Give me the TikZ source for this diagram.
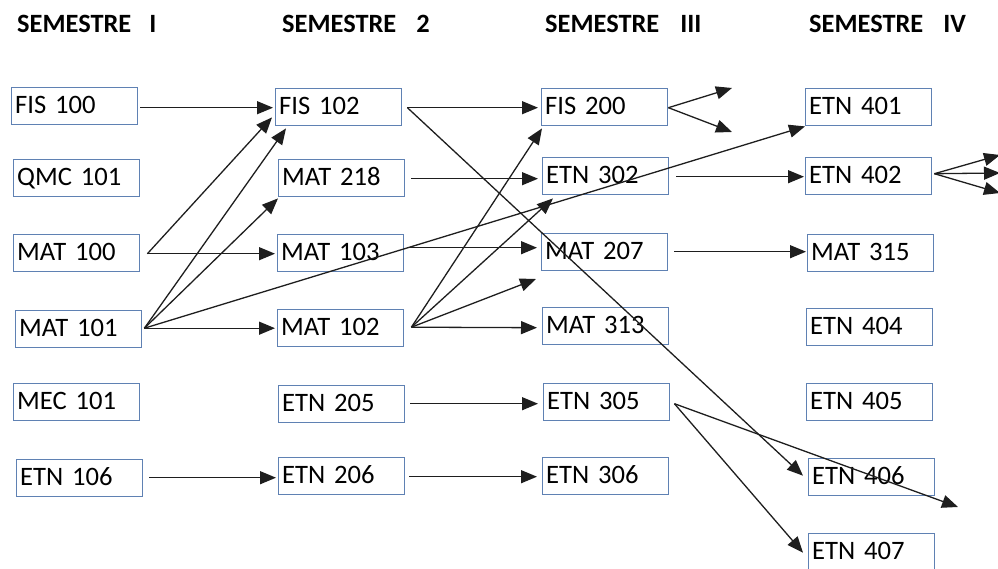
\documentclass[tikz,border=0pt]{standalone}
\usepackage{fontspec}
\setmainfont{Carlito}
\usetikzlibrary{arrows.meta,calc}
\definecolor{boxline}{HTML}{5F81B3}
\definecolor{wire}{HTML}{1E1E1E}
\begin{document}
\begin{tikzpicture}[x=1pt,y=-1pt,
  course/.style={draw=boxline, line width=1.4pt, rectangle, anchor=north west,
    minimum width=126pt, minimum height=37pt, text width=119pt, align=left,
    inner xsep=3.5pt, inner ysep=0pt, text height=17pt, text depth=2.5pt,
    font=\fontsize{26.6}{30}\selectfont},
  heading/.style={anchor=base west, inner sep=0pt,
    font=\fontsize{26.4}{30}\selectfont\bfseries},
  arr/.style={draw=wire, line width=1.3pt, -{Triangle[length=16pt,width=13pt]}}]
\useasboundingbox (0,0) rectangle (998,569);
\clip (0,0) rectangle (998,569);

% semester headings
\node[heading] (h1) at (17,33) {SEMESTRE\hspace{18pt}I};
\node[heading] (h2) at (282,33) {SEMESTRE\hspace{20pt}2};
\node[heading] (h3) at (545,33) {SEMESTRE\hspace{21pt}III};
\node[heading] (h4) at (809,33) {SEMESTRE\hspace{20pt}IV};

% semester I
\node[course] (fis100) at (11,87)  {FIS 100};
\node[course] (qmc101) at (13,159) {QMC 101};
\node[course] (mat100) at (13,234) {MAT 100};
\node[course] (mat101) at (15,310) {MAT 101};
\node[course] (mec101) at (13,383) {MEC 101};
\node[course] (etn106) at (16,459) {ETN 106};

% semester 2
\node[course] (fis102) at (275,88)  {FIS 102};
\node[course] (mat218) at (278,159) {MAT 218};
\node[course] (mat103) at (277,234) {MAT 103};
\node[course] (mat102) at (277,309) {MAT 102};
\node[course] (etn205) at (278,385) {ETN 205};
\node[course] (etn206) at (278,457) {ETN 206};

% semester III
\node[course] (fis200) at (541,88)  {FIS 200};
\node[course] (etn302) at (542,157) {ETN 302};
\node[course] (mat207) at (541,233) {MAT 207};
\node[course] (mat313) at (542,307) {MAT 313};
\node[course] (etn305) at (543,383) {ETN 305};
\node[course] (etn306) at (542,457) {ETN 306};

% semester IV
\node[course] (etn401) at (805,88)  {ETN 401};
\node[course] (etn402) at (805,157) {ETN 402};
\node[course] (mat315) at (807,234) {MAT 315};
\node[course] (etn404) at (806,308) {ETN 404};
\node[course] (etn405) at (806,383) {ETN 405};
\node[course] (etn406) at (808,458) {ETN 406};
\node[course] (etn407) at (808,533) {ETN 407};

% open ends of arrows leading out of the chart
\coordinate (fa) at (732,88);
\coordinate (fb) at (732,132);
\coordinate (fc) at (536,279);
\coordinate (fd) at (1000,155);
\coordinate (fe) at (1000,173);
\coordinate (ff) at (1000,193);
\coordinate (fg) at (958,507);

% semester I -> semester 2
\draw[arr] ($(fis100.east)+(2,1.5)$) -- ($(fis102.west)+(-2,0.5)$);
\draw[arr] ($(mat100.east)+(7,0.5)$) -- ($(fis102.south west)+(-3,-9)$);
\draw[arr] ($(mat100.east)+(7,0.5)$) -- ($(mat103.west)+(-2,0.5)$);
\draw[arr] ($(mat101.east)+(2,-1)$) -- ($(fis102.south west)+(11,2)$);
\draw[arr] ($(mat101.east)+(2,-1)$) -- ($(mat218.south west)+(0,1)$);
\draw[arr] ($(mat101.east)+(2,-1)$) -- (etn401.south west);
\draw[arr] ($(mat101.east)+(2,-1)$) -- ($(mat102.west)+(-2,0)$);
\draw[arr] ($(etn106.east)+(6,-0.5)$) -- ($(etn206.west)+(-2,1.5)$);

% semester 2 -> semester III
\draw[arr] ($(fis102.east)+(5,0.5)$) -- ($(fis200.west)+(-3,0.5)$);
\draw[arr] ($(fis102.east)+(5,0.5)$) -- ($(etn406.west)+(-5,-1.5)$);
\draw[arr] ($(mat218.east)+(6,0.5)$) -- ($(etn302.west)+(-4,2.5)$);
\draw[arr] ($(mat103.east)+(5,-5.5)$) -- ($(mat207.west)+(-4,-4.5)$);
\draw[arr] ($(mat102.east)+(7,-1)$) -- ($(fis200.south west)+(1,2)$);
\draw[arr] ($(mat102.east)+(7,-1)$) -- ($(etn302.south west)+(11,3)$);
\draw[arr] ($(mat102.east)+(7,-1)$) -- (fc);
\draw[arr] ($(mat102.east)+(7,-1)$) -- ($(mat313.west)+(-5,1.5)$);
\draw[arr] ($(etn205.east)+(5,-0.5)$) -- ($(etn305.west)+(-5,1.5)$);
\draw[arr] ($(etn206.east)+(4,0.5)$) -- ($(etn306.west)+(-5,0.5)$);

% semester III -> semester IV
\draw[arr] ($(fis200.east)+(0,0.5)$) -- (fa);
\draw[arr] ($(fis200.east)+(0,0.5)$) -- (fb);
\draw[arr] ($(etn302.east)+(7,0.5)$) -- ($(etn402.west)+(-1,0.5)$);
\draw[arr] ($(mat207.east)+(6,-0.5)$) -- ($(mat315.west)+(-1,-1.5)$);
\draw[arr] ($(etn305.east)+(4,1.5)$) -- ($(etn407.west)+(-5,0.5)$);
\draw[arr] ($(etn305.east)+(4,1.5)$) -- (fg);

% ETN 402 onwards
\draw[arr] ($(etn402.east)+(2,-2.5)$) -- (fd);
\draw[arr] ($(etn402.east)+(2,-2.5)$) -- (fe);
\draw[arr] ($(etn402.east)+(2,-2.5)$) -- (ff);
\end{tikzpicture}
\end{document}
